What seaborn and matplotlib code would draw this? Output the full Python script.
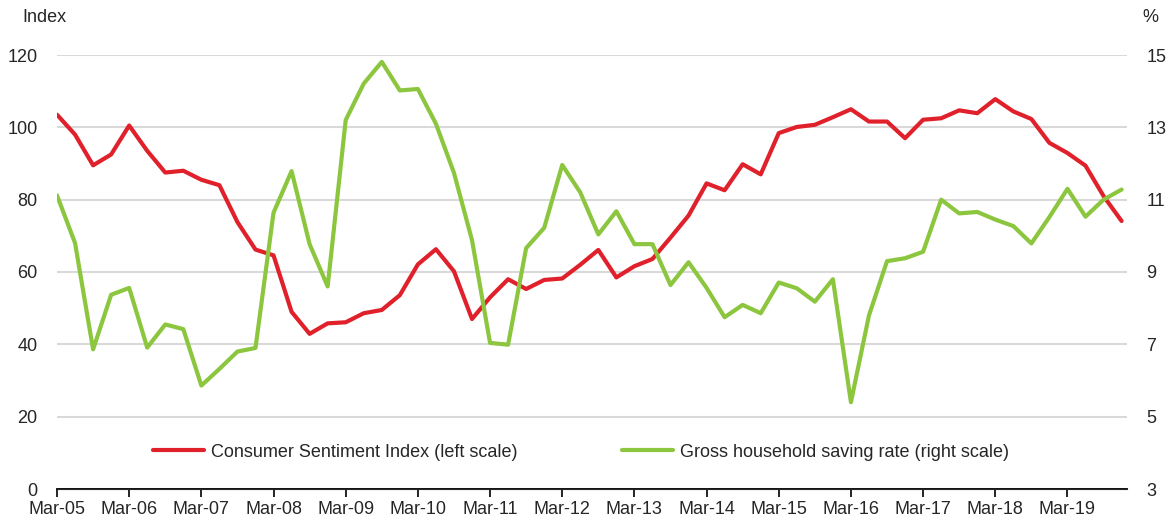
import pandas as pd
import seaborn as sns
from matplotlib import pyplot as plt

# quarterly, Mar-05 .. Dec-19
quarters = [f"{m}-{y:02d}" for y in range(5, 20) for m in ["Mar", "Jun", "Sep", "Dec"]]

sentiment = [
    103.5, 98.0, 89.5, 92.5, 100.5, 93.5, 87.5, 88.0,
    85.5, 84.0, 73.8, 66.2, 64.6, 49.0, 42.9, 45.8,
    46.1, 48.6, 49.5, 53.6, 62.1, 66.3, 60.2, 47.0,
    53.0, 58.0, 55.3, 57.8, 58.2, 62.0, 66.1, 58.5,
    61.6, 63.6, 69.5, 75.6, 84.5, 82.6, 89.8, 87.0,
    98.4, 100.1, 100.7, 102.8, 105.0, 101.6, 101.6, 97.0,
    102.1, 102.5, 104.7, 103.9, 107.8, 104.4, 102.3, 95.7,
    92.9, 89.4, 81.0, 74.1,
]

saving_rate = [
    11.12, 9.80, 6.86, 8.37, 8.56, 6.91, 7.55, 7.42,
    5.86, 6.32, 6.80, 6.90, 10.64, 11.79, 9.77, 8.60,
    13.20, 14.21, 14.81, 14.02, 14.06, 13.10, 11.74, 9.88,
    7.04, 6.99, 9.66, 10.22, 11.96, 11.20, 10.04, 10.68,
    9.77, 9.77, 8.64, 9.27, 8.56, 7.75, 8.09, 7.86,
    8.71, 8.55, 8.18, 8.80, 5.40, 7.80, 9.30, 9.38,
    9.56, 11.00, 10.62, 10.66, 10.45, 10.27, 9.79, 10.52,
    11.30, 10.53, 11.00, 11.28,
]

tick_pos = list(range(0, 60, 4))
tick_labels = quarters[0:60:4]

df = pd.DataFrame({"q": range(len(quarters)), "csi": sentiment, "sav": saving_rate})

red = "#e0212b"
green = "#8cc63f"

sns.set_style("white")
plt.rcParams["font.family"] = ["Liberation Sans", "DejaVu Sans"]

fig = plt.figure(figsize=(11.74, 5.18), dpi=100)
ax = fig.add_axes([57 / 1174, 1 - 489 / 518, 1070 / 1174, 434 / 518])
ax2 = ax.twinx()

sns.lineplot(data=df, x="q", y="csi", ax=ax, color=red, linewidth=3,
             label="Consumer Sentiment Index (left scale)", legend=False)
sns.lineplot(data=df, x="q", y="sav", ax=ax2, color=green, linewidth=3,
             label="Gross household saving rate (right scale)", legend=False)

ax.set_xlim(0, 59.3)
ax.set_ylim(0, 120)
ax.set_yticks(range(0, 121, 20))
ax2.set_ylim(3, 15)
ax2.set_yticks(range(3, 16, 2))

ax.grid(axis="y", color="#d9d9d9", linewidth=1.5)
ax.set_axisbelow(True)
ax.set_xticks(tick_pos)
ax.set_xticklabels(tick_labels)
ax.set_xlabel("")
ax.set_ylabel("")
ax2.set_ylabel("")

for a in (ax, ax2):
    for side in ("top", "left", "right"):
        a.spines[side].set_visible(False)
ax.spines["bottom"].set_color("black")
ax.spines["bottom"].set_linewidth(1.3)

ax.tick_params(axis="x", direction="out", length=6, width=1.2, color="black",
               labelsize=13, pad=3, bottom=True)
ax.tick_params(axis="y", length=0, labelsize=13, pad=14)
ax2.tick_params(axis="y", length=0, labelsize=13, pad=14)

fig.text(22 / 1174, 1 - 18 / 518, "Index", fontsize=13, ha="left", va="center")
fig.text(1142 / 1174, 1 - 18 / 518, "%", fontsize=13, ha="left", va="center")

h1, l1 = ax.get_legend_handles_labels()
h2, l2 = ax2.get_legend_handles_labels()
ax.legend(h1 + h2, l1 + l2, loc="center", bbox_to_anchor=(0.49, 0.085),
          ncol=2, frameon=False, fontsize=13, handlelength=2.8,
          handletextpad=0.4, columnspacing=5.8)

fig.savefig("out.png", dpi=100)
